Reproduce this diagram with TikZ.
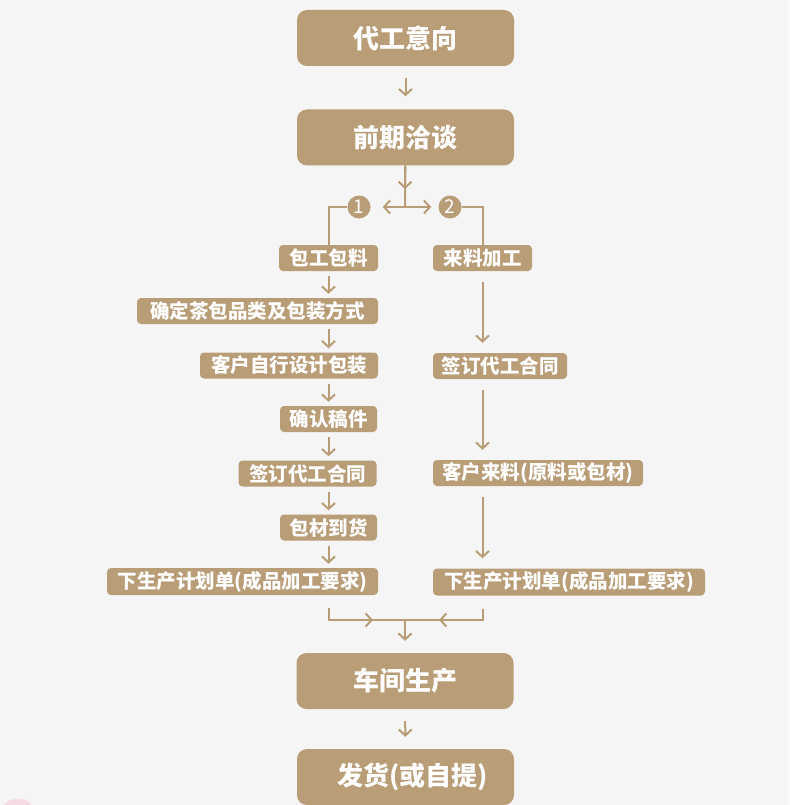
\documentclass[tikz,border=0pt]{standalone}
\usepackage{fontspec}
\newfontfamily\cjk{Noto Sans CJK SC}
\usetikzlibrary{arrows.meta}
\usetikzlibrary{calc}
\definecolor{tea}{HTML}{B89D76}
\definecolor{paper}{HTML}{F5F5F5}
\definecolor{blossom}{HTML}{F5DCE4}

\begin{document}
\begin{tikzpicture}[x=1pt,y=-1pt,
    bigbox/.style={fill=tea,rounded corners=10pt,minimum width=217pt,minimum height=56pt,inner sep=0pt,
        text=white,font=\cjk\bfseries\fontsize{26}{26}\selectfont},
    smallbox/.style={fill=tea,rounded corners=4pt,minimum height=26pt,inner sep=0pt,
        text=white,font=\cjk\bfseries\fontsize{19.5}{20}\selectfont},
    num/.style={circle,fill=tea,minimum size=23pt,inner sep=0pt,text=white,font=\cjk\fontsize{19}{19}\selectfont},
    line/.style={draw=tea,line width=2pt},
    flow/.style={line,-{Straight Barb[length=6pt,width=13pt]}}]

        % background
        \fill[paper] (0,0) rectangle (789,805);
        \useasboundingbox (0,0) rectangle (789,805);
        \fill[blossom] (18,808) ellipse [x radius=15, y radius=9];

        % main boxes
        \node[bigbox] (intent) at (405.5,38) {代工意向};
        \node[bigbox] (talk) at (405.5,137.5) {前期洽谈};
        \node[bigbox] (make) at (405,681) {车间生产};
        \node[bigbox] (ship) at (405.5,777) {\hspace*{14pt}发货(或自提)};

        % two ways
        \coordinate (barb) at (405,189);
        \coordinate (split) at (405,207);
        \node[num] (one) at (359,207) {1};
        \node[num] (two) at (450,207) {2};

        % left column
        \node[smallbox,minimum width=99pt] (pack) at (328.5,258) {包工包料};
        \node[smallbox,minimum width=241pt] (choose) at (257.5,311) {确定茶包品类及包装方式};
        \node[smallbox,minimum width=178pt] (design) at (289,365.5) {客户自行设计包装};
        \node[smallbox,minimum width=97pt] (proof) at (328.5,419) {确认稿件};
        \node[smallbox,minimum width=138pt] (signL) at (307.5,473.5) {签订代工合同};
        \node[smallbox,minimum width=97pt] (arrive) at (328.5,527.5) {包材到货};
        \node[smallbox,minimum width=271pt,minimum height=27pt] (planL) at (242.5,581.5) {下生产计划单(成品加工要求)};

        % right column
        \node[smallbox,minimum width=99pt] (feed) at (482.5,258) {来料加工};
        \node[smallbox,minimum width=134pt] (signR) at (500,366) {签订代工合同};
        \node[smallbox,minimum width=210pt] (supply) at (538,473) {客户来料(原料或包材)};
        \node[smallbox,minimum width=272pt,minimum height=27pt] (planR) at (569,582) {下生产计划单(成品加工要求)};

        % top arrows
        \draw[flow,shorten <=12pt,shorten >=13pt] (intent) -- (talk);
        \draw[line] (talk) -- (split);
        \draw[flow] (talk) -- (barb);
        \draw[flow,shorten >=12pt] (split) -- (one);
        \draw[flow,shorten >=7pt] (split) -- (two);
        \draw[line] (one) -| (pack);
        \draw[line] (two) -| (feed);

        % column arrows
        \foreach \a/\b in {pack/choose,choose/design,design/proof,proof/signL,signL/arrive,arrive/planL}
            \draw[flow,shorten <=5pt,shorten >=4pt] (\a.south -| pack) -- (\b.north -| pack);
        \foreach \a/\b in {feed/signR,signR/supply,supply/planR}
            \draw[flow,shorten <=11pt,shorten >=10pt] (\a.south -| feed) -- (\b.north -| feed);

        % merge
        \coordinate (dropL) at ($(planL.south -| pack)+(0,13)$);
        \coordinate (dropR) at ($(planR.south -| feed)+(0,13)$);
        \coordinate (merge) at (405,620);
        \coordinate (tipL) at (373,620);
        \coordinate (tipR) at (439,620);
        \draw[line] (dropL) |- (merge);
        \draw[line] (dropR) |- (merge);
        \draw[flow] (dropL) |- (tipL);
        \draw[flow] (dropR) |- (tipR);
        \draw[flow,shorten >=12pt] (merge) -- (make);

        % last step
        \draw[flow,shorten <=12pt,shorten >=12pt] (make) -- (ship);
\end{tikzpicture}
\end{document}
